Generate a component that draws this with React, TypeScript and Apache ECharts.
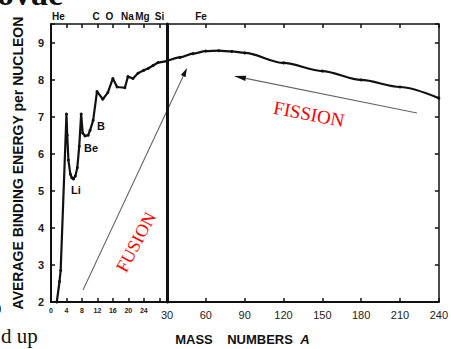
import React, { useEffect, useRef } from 'react';
import * as echarts from 'echarts';

// Light nuclei (A = 0..30)
const lightA = [1.5, 2.2, 2.5, 4, 4.2, 4.5, 5.0, 5.4, 5.8, 6.3, 6.8, 7.3, 7.8, 8.2, 8.8, 9.6, 10.1, 10.9, 11.9, 13.4, 14.7, 16, 17.1, 19.1, 19.9, 21.2, 22.5, 24, 25.1, 26.4, 27.7, 30];
const lightBE = [2.0, 2.55, 2.85, 7.07, 6.5, 5.83, 5.45, 5.35, 5.32, 5.4, 5.62, 6.2, 7.07, 6.56, 6.48, 6.5, 6.63, 6.9, 7.68, 7.47, 7.65, 8.03, 7.8, 7.78, 8.08, 8.03, 8.17, 8.25, 8.3, 8.38, 8.46, 8.5];
// Heavier nuclei (A = 30..240), right panel
const heavyA = [30, 40, 50, 60, 70, 80, 90, 120, 150, 180, 210, 240];
const heavyBE = [8.5, 8.6, 8.7, 8.77, 8.78, 8.76, 8.72, 8.45, 8.23, 7.99, 7.8, 7.5];

const lightTicksHidden = [28, 30];
const topElements = ['He', 'C', 'O', 'Na', 'Mg', 'Si', 'Fe'];
const curveLabels = ['Li', 'Be', 'B'];
const yTitle = 'AVERAGE BINDING ENERGY per NUCLEON';

const SANS = '"Liberation Sans", Arial, sans-serif';
const SERIF = '"Liberation Serif", "Times New Roman", serif';

function arrow(x1: number, y1: number, x2: number, y2: number, len: number, half: number) {
  const dx = x2 - x1, dy = y2 - y1;
  const L = Math.hypot(dx, dy);
  const ux = dx / L, uy = dy / L;
  const bx = x2 - ux * len, by = y2 - uy * len;
  return [
    { type: 'line', shape: { x1, y1, x2: bx, y2: by }, style: { stroke: '#666', lineWidth: 1.1 } },
    {
      type: 'polygon',
      shape: { points: [[x2, y2], [bx - uy * half, by + ux * half], [bx + uy * half, by - ux * half]] },
      style: { fill: '#111' },
    },
  ];
}

export default function App() {
  const ref = useRef<HTMLDivElement>(null);
  useEffect(() => {
    if (!ref.current) return;
    const chart = echarts.init(ref.current, null, { renderer: 'svg' });
    const axisLine = (w: number) => ({ show: true, onZero: false, lineStyle: { color: '#111', width: w } });
    const tick = { show: true, inside: true, length: 4, lineStyle: { color: '#111', width: 1.5 } };
    const noLabel = { show: false };

    const topXs = [58.5, 96, 109.5, 127.5, 142.5, 159.5, 201];
    const curvePos = [[76, 190], [91, 148], [101, 126]];

    const graphic: any[] = [
      ...topElements.map((t, i) => ({
        type: 'text', x: topXs[i], y: 16,
        style: { text: t, font: `bold 10px ${SANS}`, fill: '#111', align: 'center', verticalAlign: 'middle' },
      })),
      ...curveLabels.map((t, i) => ({
        type: 'text', x: curvePos[i][0], y: curvePos[i][1],
        style: { text: t, font: `bold 11px ${SANS}`, fill: '#111', align: 'center', verticalAlign: 'middle' },
      })),
      { type: 'text', x: 194, y: 339, style: { text: 'MASS', font: `bold 13px ${SANS}`, fill: '#111', align: 'center', verticalAlign: 'middle' } },
      { type: 'text', x: 260, y: 339, style: { text: 'NUMBERS', font: `bold 13px ${SANS}`, fill: '#111', align: 'center', verticalAlign: 'middle' } },
      { type: 'text', x: 305, y: 339, style: { text: 'A', font: `italic bold 13px ${SANS}`, fill: '#111', align: 'center', verticalAlign: 'middle' } },
      ...arrow(83, 290, 187, 68, 9, 2.6),
      ...arrow(417, 113, 234, 76, 12, 2.6),
      { type: 'text', x: 136, y: 242, rotation: 1.08, style: { text: 'FUSION', font: `18px ${SERIF}`, fill: '#f00', align: 'center', verticalAlign: 'middle' } },
      { type: 'text', x: 309, y: 114, rotation: -0.19, style: { text: 'FISSION', font: `19px ${SERIF}`, fill: '#f00', align: 'center', verticalAlign: 'middle' } },
      { type: 'text', x: -3, y: 10, style: { text: 'ovae', font: `bold 34px ${SERIF}`, fill: '#111', align: 'left', verticalAlign: 'bottom' } },
      { type: 'text', x: 1, y: 346, style: { text: 'd up', font: `21px ${SERIF}`, fill: '#111', align: 'left', verticalAlign: 'bottom' } },
      { type: 'text', x: -3, y: 314, style: { text: ')', font: `13px ${SERIF}`, fill: '#111', align: 'left', verticalAlign: 'bottom' } },
    ];

    chart.setOption({
      animation: false,
      backgroundColor: '#fff',
      grid: [
        { left: 51, top: 24, width: 116, height: 278 },
        { left: 167, top: 24, width: 276, height: 278 },
      ],
      xAxis: [
        {
          gridIndex: 0, type: 'value', min: 0, max: 30, interval: 4, position: 'bottom',
          axisLine: axisLine(2), axisTick: tick, splitLine: { show: false },
          axisLabel: {
            fontSize: 7, fontWeight: 'bold', fontFamily: SANS, color: '#222', margin: 5,
            formatter: (v: number) => (lightTicksHidden.includes(v) ? '' : String(v)),
          },
        },
        {
          gridIndex: 1, type: 'value', min: 30, max: 240, interval: 30, position: 'bottom',
          axisLine: axisLine(2), axisTick: tick, splitLine: { show: false },
          axisLabel: { fontSize: 11, fontFamily: SANS, color: '#222', margin: 7 },
        },
        {
          gridIndex: 0, type: 'value', min: 0, max: 30, interval: 4, position: 'top',
          axisLine: axisLine(1.5), axisTick: tick, splitLine: { show: false }, axisLabel: noLabel,
        },
        {
          gridIndex: 1, type: 'value', min: 30, max: 240, interval: 30, position: 'top',
          axisLine: axisLine(1.5), axisTick: tick, splitLine: { show: false }, axisLabel: noLabel,
        },
      ],
      yAxis: [
        {
          gridIndex: 0, type: 'value', min: 2, max: 9.5, interval: 1, position: 'left',
          axisLine: axisLine(2), axisTick: tick, splitLine: { show: false },
          axisLabel: {
            fontSize: 11, fontWeight: 'bold', fontFamily: SANS, color: '#222', margin: 7,
            formatter: (v: number) => (Number.isInteger(v) ? String(v) : ''),
          },
          name: yTitle, nameLocation: 'middle', nameGap: 26,
          nameTextStyle: { fontSize: 14, fontWeight: 'bold', fontFamily: SANS, color: '#111' },
        },
        {
          gridIndex: 1, type: 'value', min: 2, max: 9.5, interval: 1, position: 'left',
          axisLine: axisLine(3), axisTick: { show: false }, splitLine: { show: false }, axisLabel: noLabel,
        },
        {
          gridIndex: 1, type: 'value', min: 2, max: 9.5, interval: 1, position: 'right',
          axisLine: axisLine(1.5), axisTick: tick, splitLine: { show: false }, axisLabel: noLabel,
        },
      ],
      series: [
        {
          type: 'line', xAxisIndex: 0, yAxisIndex: 0,
          data: lightA.map((a, i) => [a, lightBE[i]]),
          lineStyle: { color: '#111', width: 2.2 }, itemStyle: { color: '#111' },
          symbol: 'circle', symbolSize: 3, showSymbol: true,
        },
        {
          type: 'line', xAxisIndex: 1, yAxisIndex: 1,
          data: heavyA.map((a, i) => [a, heavyBE[i]]),
          lineStyle: { color: '#111', width: 2.2 }, itemStyle: { color: '#111' },
          symbol: 'circle', symbolSize: 3, showSymbol: true, smooth: 0.3, smoothMonotone: 'x',
        },
      ],
      graphic,
    });
    return () => chart.dispose();
  }, []);
  return <div ref={ref} style={{ position: 'absolute', left: 0, top: 0, width: 451, height: 349 }} />;
}
